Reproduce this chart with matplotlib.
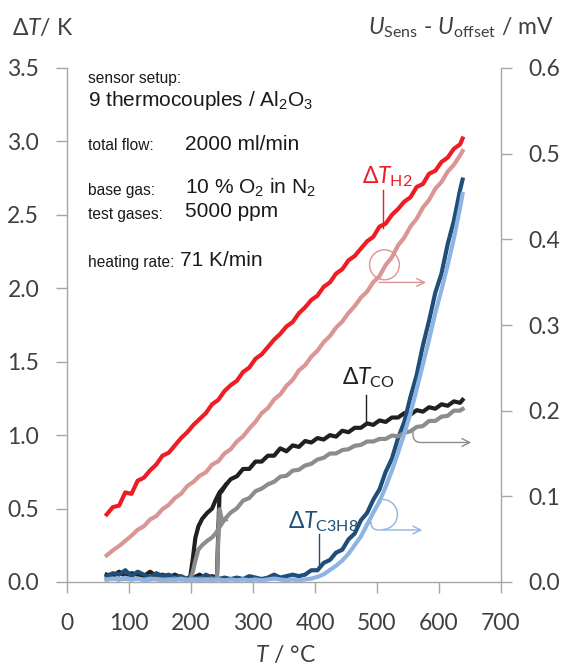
import numpy as np
import matplotlib
matplotlib.use("Agg")
import matplotlib.pyplot as plt
from matplotlib.patches import Arc
from matplotlib.ticker import MultipleLocator, FormatStrFormatter

# ── Fonts ─────────────────────────────────────────────────────────────────────
plt.rcParams["font.family"] = ["Lato", "DejaVu Sans"]
plt.rcParams["mathtext.fontset"] = "custom"
plt.rcParams["mathtext.rm"] = "Lato"
plt.rcParams["mathtext.it"] = "Lato:italic"
plt.rcParams["mathtext.bf"] = "Lato:bold"
plt.rcParams["mathtext.fallback"] = "stixsans"

# ── Data ──────────────────────────────────────────────────────────────────────
# temperature grid, °C
T_GRID = [64, 74, 84, 94, 104, 114, 124, 134, 144, 154,
          164, 174, 184, 194, 204, 214, 224, 234, 244, 254,
          264, 274, 284, 294, 304, 314, 324, 334, 344, 354,
          364, 374, 384, 394, 404, 414, 424, 434, 444, 454,
          464, 474, 484, 494, 504, 514, 524, 534, 544, 554,
          564, 574, 584, 594, 604, 614, 624, 634, 638]

# H2: ΔT in K (left axis), sensor voltage in mV (right axis)
DT_H2 = [0.46, 0.51, 0.52, 0.61, 0.60, 0.69, 0.71, 0.76, 0.80, 0.86,
         0.88, 0.93, 0.98, 1.02, 1.07, 1.11, 1.15, 1.21, 1.24, 1.30,
         1.34, 1.37, 1.43, 1.46, 1.52, 1.55, 1.60, 1.65, 1.69, 1.74,
         1.77, 1.83, 1.87, 1.92, 1.95, 2.01, 2.04, 2.10, 2.13, 2.19,
         2.22, 2.27, 2.32, 2.35, 2.42, 2.44, 2.50, 2.54, 2.59, 2.62,
         2.69, 2.71, 2.78, 2.80, 2.86, 2.89, 2.95, 2.98, 3.02]
U_H2 = [0.031, 0.037, 0.042, 0.048, 0.054, 0.061, 0.065, 0.073, 0.077, 0.085,
        0.090, 0.098, 0.103, 0.112, 0.117, 0.124, 0.128, 0.137, 0.141, 0.150,
        0.155, 0.164, 0.170, 0.179, 0.187, 0.197, 0.203, 0.213, 0.219, 0.229,
        0.236, 0.247, 0.253, 0.263, 0.270, 0.280, 0.287, 0.297, 0.304, 0.314,
        0.322, 0.332, 0.339, 0.350, 0.357, 0.370, 0.379, 0.393, 0.402, 0.415,
        0.424, 0.437, 0.446, 0.459, 0.467, 0.479, 0.487, 0.498, 0.503]

# C3H8
DT_C3H8 = [0.04, 0.06, 0.05, 0.08, 0.04, 0.07, 0.05, 0.03, 0.06, 0.04,
           0.05, 0.03, 0.04, 0.02, 0.03, 0.02, 0.05, 0.03, 0.02, 0.03,
           0.02, 0.03, 0.02, 0.04, 0.03, 0.02, 0.03, 0.05, 0.03, 0.04,
           0.05, 0.04, 0.05, 0.08, 0.08, 0.13, 0.15, 0.20, 0.22, 0.29,
           0.33, 0.42, 0.47, 0.56, 0.63, 0.75, 0.84, 0.98, 1.09, 1.26,
           1.41, 1.61, 1.78, 1.97, 2.10, 2.30, 2.46, 2.67, 2.74]
U_C3H8 = [0.003, 0.004, 0.003, 0.005, 0.003, 0.004, 0.002, 0.004, 0.003, 0.002,
          0.003, 0.002, 0.004, 0.002, 0.003, 0.002, 0.003, 0.002, 0.003, 0.002,
          0.003, 0.002, 0.003, 0.002, 0.003, 0.002, 0.003, 0.004, 0.003, 0.002,
          0.003, 0.002, 0.003, 0.004, 0.006, 0.009, 0.014, 0.019, 0.025, 0.033,
          0.043, 0.053, 0.067, 0.081, 0.094, 0.111, 0.130, 0.151, 0.173, 0.197,
          0.225, 0.254, 0.283, 0.314, 0.341, 0.370, 0.401, 0.437, 0.453]

# CO, run A (ignition near 200 °C)
T_CO_A = [64, 74, 84, 94, 104, 114, 124, 134, 144, 154,
          164, 174, 184, 194, 199, 203, 207, 212, 218, 226,
          234, 240, 246, 254, 264, 274, 284, 294, 304, 314,
          324, 334, 344, 354, 364, 374, 384, 394, 404, 414,
          424, 434, 444, 454, 464, 474, 484, 494, 504, 514,
          524, 534, 544, 554, 564, 574, 584, 594, 604, 614,
          624, 634, 638]
DT_CO_A = [0.05, 0.04, 0.07, 0.04, 0.06, 0.05, 0.04, 0.07, 0.04, 0.05,
           0.03, 0.05, 0.03, 0.02, 0.04, 0.16, 0.30, 0.38, 0.43, 0.47,
           0.50, 0.56, 0.61, 0.65, 0.70, 0.72, 0.77, 0.77, 0.82, 0.82,
           0.86, 0.86, 0.91, 0.89, 0.93, 0.92, 0.96, 0.95, 0.98, 0.97,
           1.00, 0.99, 1.03, 1.02, 1.05, 1.05, 1.08, 1.07, 1.10, 1.09,
           1.12, 1.12, 1.15, 1.14, 1.17, 1.16, 1.19, 1.18, 1.21, 1.20,
           1.23, 1.22, 1.24]
U_CO_A = [0.003, 0.004, 0.003, 0.004, 0.003, 0.004, 0.003, 0.003, 0.004, 0.003,
          0.003, 0.004, 0.003, 0.003, 0.004, 0.012, 0.025, 0.038, 0.043, 0.048,
          0.052, 0.057, 0.064, 0.073, 0.081, 0.086, 0.095, 0.098, 0.106, 0.109,
          0.114, 0.117, 0.123, 0.124, 0.130, 0.131, 0.136, 0.138, 0.143, 0.145,
          0.150, 0.150, 0.154, 0.155, 0.159, 0.160, 0.164, 0.164, 0.167, 0.167,
          0.171, 0.170, 0.174, 0.176, 0.181, 0.182, 0.188, 0.188, 0.193, 0.194,
          0.200, 0.200, 0.202]

# CO, run B (ignition near 243 °C)
T_CO_B = [204, 214, 224, 234, 239, 242, 244, 246, 250, 256]
DT_CO_B = [0.03, 0.05, 0.02, 0.04, 0.03, 0.05, 0.35, 0.60, 0.62, 0.66]
U_CO_B = [0.003, 0.004, 0.003, 0.004, 0.003, 0.005, 0.050, 0.085, 0.072, 0.073]

# ── Style ─────────────────────────────────────────────────────────────────────
RED, PINK = "#ee1c25", "#d99694"
BLACK, GREY = "#231f20", "#8c8c8c"
NAVY, LIGHTBLUE = "#1f4e79", "#8db4e2"
AXIS_GREY, TXT = "#a6a6a6", "#404040"
FS = 16.5
LW = 3.0

fig = plt.figure(figsize=(5.63, 6.68), dpi=100)
ax = fig.add_axes([67 / 563, 1 - 582 / 668, 434 / 563, 514 / 668])
ax2 = ax.twinx()

# left axis: ΔT
ax.plot(T_GRID, DT_H2, color=RED, lw=LW, solid_joinstyle="round")
ax.plot(T_CO_B, DT_CO_B, color=BLACK, lw=LW, solid_joinstyle="round")
ax.plot(T_CO_A, DT_CO_A, color=BLACK, lw=LW, solid_joinstyle="round")
ax.plot(T_GRID, DT_C3H8, color=NAVY, lw=LW, solid_joinstyle="round")

# right axis: sensor voltage
ax2.plot(T_GRID, U_H2, color=PINK, lw=LW, solid_joinstyle="round")
ax2.plot(T_CO_B, U_CO_B, color=GREY, lw=LW, solid_joinstyle="round")
ax2.plot(T_CO_A, U_CO_A, color=GREY, lw=LW, solid_joinstyle="round")
ax2.plot(T_GRID, U_C3H8, color=LIGHTBLUE, lw=LW, solid_joinstyle="round")

ax.set_xlim(0, 700)
ax.set_ylim(0, 3.5)
ax2.set_ylim(0, 0.6)
ax.xaxis.set_major_locator(MultipleLocator(100))
ax.yaxis.set_major_locator(MultipleLocator(0.5))
ax2.yaxis.set_major_locator(MultipleLocator(0.1))
ax.yaxis.set_major_formatter(FormatStrFormatter("%.1f"))
ax2.yaxis.set_major_formatter(FormatStrFormatter("%.1f"))

for a in (ax, ax2):
    a.spines["top"].set_visible(False)
    for s in a.spines.values():
        s.set_color(AXIS_GREY)
        s.set_linewidth(1.0)
ax.spines["right"].set_visible(False)
ax2.spines["left"].set_visible(False)
ax2.spines["bottom"].set_visible(False)

ax.tick_params(axis="both", direction="out", length=8, width=1,
               color=AXIS_GREY, labelcolor=TXT, labelsize=FS)
ax.tick_params(axis="y", pad=12)
ax.tick_params(axis="x", pad=14)
ax2.tick_params(axis="y", direction="out", length=8, width=1,
                color=AXIS_GREY, labelcolor=TXT, labelsize=FS, pad=12)

# axis titles
fig.text(12 / 563, 1 - 28 / 668, r"$\Delta\mathit{T}$/ K", fontsize=FS,
         color=TXT, va="center", ha="left")
fig.text(553 / 563, 1 - 28 / 668,
         r"$\mathit{U}_{\mathrm{Sens}}$ - $\mathit{U}_{\mathrm{offset}}$ / mV",
         fontsize=FS, color=TXT, va="center", ha="right")
fig.text(285 / 563, 1 - 655 / 668, r"$\mathit{T}$ / °C", fontsize=FS,
         color=TXT, va="center", ha="center")

# measurement conditions
info_font = "Liberation Sans"
small, big = 11.2, 15
info = [
    (88, 79, "sensor setup:", small),
    (88, 101, r"9 thermocouples / $\mathregular{Al_2O_3}$", big),
    (88, 146, "total flow:", small),
    (185, 144, "2000 ml/min", big),
    (88, 190, "base gas:", small),
    (185, 188, r"10 % $\mathregular{O_2}$ in $\mathregular{N_2}$", big),
    (88, 214, "test gases:", small),
    (185, 212, "5000 ppm", big),
    (88, 262, "heating rate:", small),
    (180, 260, "71 K/min", big),
]
for px, py, s, fs in info:
    fig.text(px / 563, 1 - py / 668, s, fontsize=fs, family=info_font,
             color="#1a1a1a", va="center", ha="left")

# curve labels with leader lines
ax.text(475, 2.76, r"$\Delta\mathit{T}_{\mathrm{H2}}$", color=RED, fontsize=FS,
        va="center", ha="left")
ax.plot([509, 509], [2.41, 2.67], color=RED, lw=1)
ax.text(444, 1.39, r"$\Delta\mathit{T}_{\mathrm{CO}}$", color=BLACK, fontsize=FS,
        va="center", ha="left")
ax.plot([483, 483], [1.09, 1.27], color=BLACK, lw=1)
ax.text(356, 0.41, r"$\Delta\mathit{T}_{\mathrm{C3H8}}$", color=NAVY, fontsize=FS,
        va="center", ha="left")
ax.plot([407, 407], [0.10, 0.33], color=NAVY, lw=1)

# "belongs to right axis" markers
ax.add_patch(Arc((512, 2.16), 48, 0.204, theta1=-30, theta2=215,
                 color=PINK, lw=1))
ax.annotate("", xy=(579, 2.04), xytext=(503, 2.04),
            arrowprops=dict(arrowstyle="->", color=PINK, lw=1,
                            mutation_scale=14, shrinkA=0, shrinkB=0))
ax.annotate("", xy=(652, 0.95), xytext=(558, 1.03),
            arrowprops=dict(arrowstyle="->", color=GREY, lw=1,
                            mutation_scale=14, shrinkA=0, shrinkB=0,
                            connectionstyle="angle,angleA=-90,angleB=180,rad=8"))
ax.add_patch(Arc((509, 0.46), 48, 0.204, theta1=-20, theta2=100,
                 color=LIGHTBLUE, lw=1))
ax.annotate("", xy=(573, 0.354), xytext=(490, 0.40),
            arrowprops=dict(arrowstyle="->", color=LIGHTBLUE, lw=1,
                            mutation_scale=14, shrinkA=0, shrinkB=0,
                            connectionstyle="angle,angleA=-90,angleB=180,rad=8"))

fig.savefig("out.png", dpi=100)
